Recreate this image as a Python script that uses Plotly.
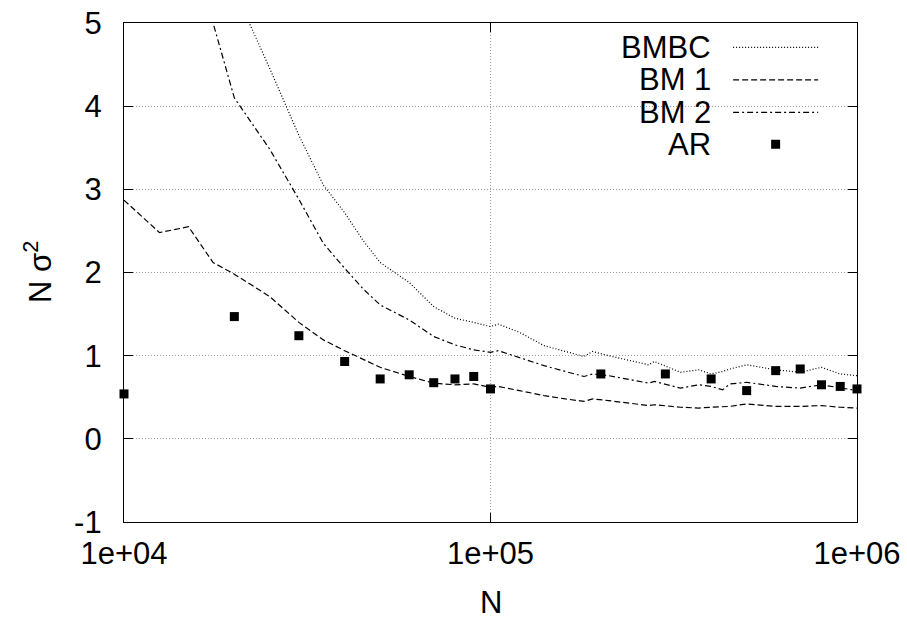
import plotly.graph_objects as go

# N values shared by the batch-means curves
N_bm = [1e4, 1.25e4, 1.5e4, 1.75e4, 2e4, 2.5e4, 3e4, 3.5e4, 4e4, 4.5e4, 5e4, 6e4, 7e4, 8e4, 9e4,
        1e5, 1.05e5, 1.2e5, 1.4e5, 1.6e5, 1.8e5, 1.9e5, 2.1e5, 2.7e5, 2.8e5, 3.3e5, 3.7e5,
        4e5, 4.3e5, 4.5e5, 5e5, 6e5, 7e5, 8e5, 9e5, 1e6]

bmbc = [9.0, 7.8, 6.8, 6.0, 5.4, 4.45, 3.65, 3.05, 2.72, 2.38, 2.12, 1.88, 1.59, 1.45, 1.40,
        1.35, 1.38, 1.28, 1.12, 1.05, 0.99, 1.05, 1.00, 0.89, 0.93, 0.80, 0.83,
        0.78, 0.81, 0.84, 0.89, 0.83, 0.80, 0.86, 0.78, 0.76]

bm1 = [2.87, 2.48, 2.55, 2.12, 1.98, 1.71, 1.40, 1.19, 1.06, 0.95, 0.86, 0.75, 0.67, 0.65, 0.66,
       0.62, 0.63, 0.58, 0.52, 0.48, 0.45, 0.48, 0.46, 0.40, 0.41, 0.38, 0.37,
       0.38, 0.39, 0.39, 0.42, 0.39, 0.39, 0.40, 0.38, 0.37]

bm2 = [8.5, 7.0, 6.2, 5.0, 4.10, 3.48, 2.88, 2.35, 2.05, 1.80, 1.61, 1.43, 1.23, 1.13, 1.07,
       1.04, 1.06, 0.98, 0.88, 0.81, 0.75, 0.78, 0.76, 0.67, 0.69, 0.61, 0.65,
       0.63, 0.59, 0.66, 0.68, 0.63, 0.61, 0.65, 0.61, 0.58]

N_ar = [1e4, 2e4, 3e4, 4e4, 5e4, 6e4, 7e4, 8e4, 9e4, 1e5,
        2e5, 3e5, 4e5, 5e5, 6e5, 7e5, 8e5, 9e5, 1e6]
ar = [0.54, 1.47, 1.24, 0.93, 0.72, 0.77, 0.675, 0.72, 0.75, 0.60,
      0.78, 0.78, 0.72, 0.58, 0.82, 0.84, 0.65, 0.63, 0.60]

x_ticks = [1e4, 1e5, 1e6]
x_ticktext = ["1e+04", "1e+05", "1e+06"]
y_ticks = [-1, 0, 1, 2, 3, 4, 5]
y_ticktext = ["-1", "0", "1", "2", "3", "4", "5"]

names = ["BMBC", "BM 1", "BM 2", "AR"]
dashes = ["1px,2px", "6px,3px", "6px,3px,2px,3px"]

FONT = "Liberation Sans, Arial, Helvetica, sans-serif"
FS = 31

fig = go.Figure()
for y, name, dash in zip([bmbc, bm1, bm2], names, dashes):
    fig.add_trace(go.Scatter(x=N_bm, y=y, mode="lines", name=name,
                             line=dict(color="black", width=1.2, dash=dash)))
fig.add_trace(go.Scatter(x=N_ar, y=ar, mode="markers", name="AR", cliponaxis=False,
                         marker=dict(symbol="square", size=9, color="black")))

axis_common = dict(showline=True, linecolor="black", linewidth=1.3, mirror="ticks",
                   ticks="inside", ticklen=9, tickwidth=1, tickcolor="black",
                   showgrid=True, gridcolor="#999999", griddash="1px,2px", gridwidth=1,
                   zeroline=False, automargin=False,
                   tickfont=dict(family=FONT, size=FS, color="black"))

fig.update_xaxes(type="log", range=[4, 6], tickvals=x_ticks, ticktext=x_ticktext,
                 ticklabelstandoff=4, **axis_common)
fig.update_yaxes(range=[-1, 5], tickvals=y_ticks, ticktext=y_ticktext,
                 ticklabelstandoff=15, **axis_common)

# legend, gnuplot style: right aligned text with sample to the right
legend_y = [0.951, 0.886, 0.821, 0.757]
shapes = [dict(type="rect", xref="paper", yref="paper", x0=0.703, x1=0.971, y0=0.725, y1=0.99,
               fillcolor="white", line=dict(width=0), layer="between")]
annotations = []
for name, ly in zip(names, legend_y):
    annotations.append(dict(text=name, xref="paper", yref="paper", x=0.803, y=ly,
                            xanchor="right", yanchor="middle", showarrow=False,
                            font=dict(family=FONT, size=FS, color="black")))
for dash, ly in zip(dashes, legend_y[:3]):
    shapes.append(dict(type="line", xref="paper", yref="paper", x0=0.831, x1=0.947, y0=ly, y1=ly,
                       line=dict(color="black", width=1.2, dash=dash)))
shapes.append(dict(type="rect", xref="paper", yref="paper", xsizemode="pixel", ysizemode="pixel",
                   xanchor=0.889, yanchor=legend_y[3], x0=-4.5, x1=4.5, y0=-4.5, y1=4.5,
                   fillcolor="black", line=dict(width=0)))

annotations.append(dict(text="N", xref="paper", yref="paper", x=0.5, y=-0.162,
                        xanchor="center", yanchor="middle", showarrow=False,
                        font=dict(family=FONT, size=FS, color="black")))
annotations.append(dict(text="N σ<sup>2</sup>", xref="paper", yref="paper", x=-0.118, y=0.5,
                        xanchor="center", yanchor="middle", textangle=-90, showarrow=False,
                        font=dict(family=FONT, size=FS, color="black")))

fig.update_layout(width=907, height=619, showlegend=False,
                  margin=dict(l=124, r=50, t=23, b=97),
                  paper_bgcolor="white", plot_bgcolor="white",
                  shapes=shapes, annotations=annotations)

fig.write_html("out.html", config={"displayModeBar": False},
               post_script="document.body.style.margin='0';")
